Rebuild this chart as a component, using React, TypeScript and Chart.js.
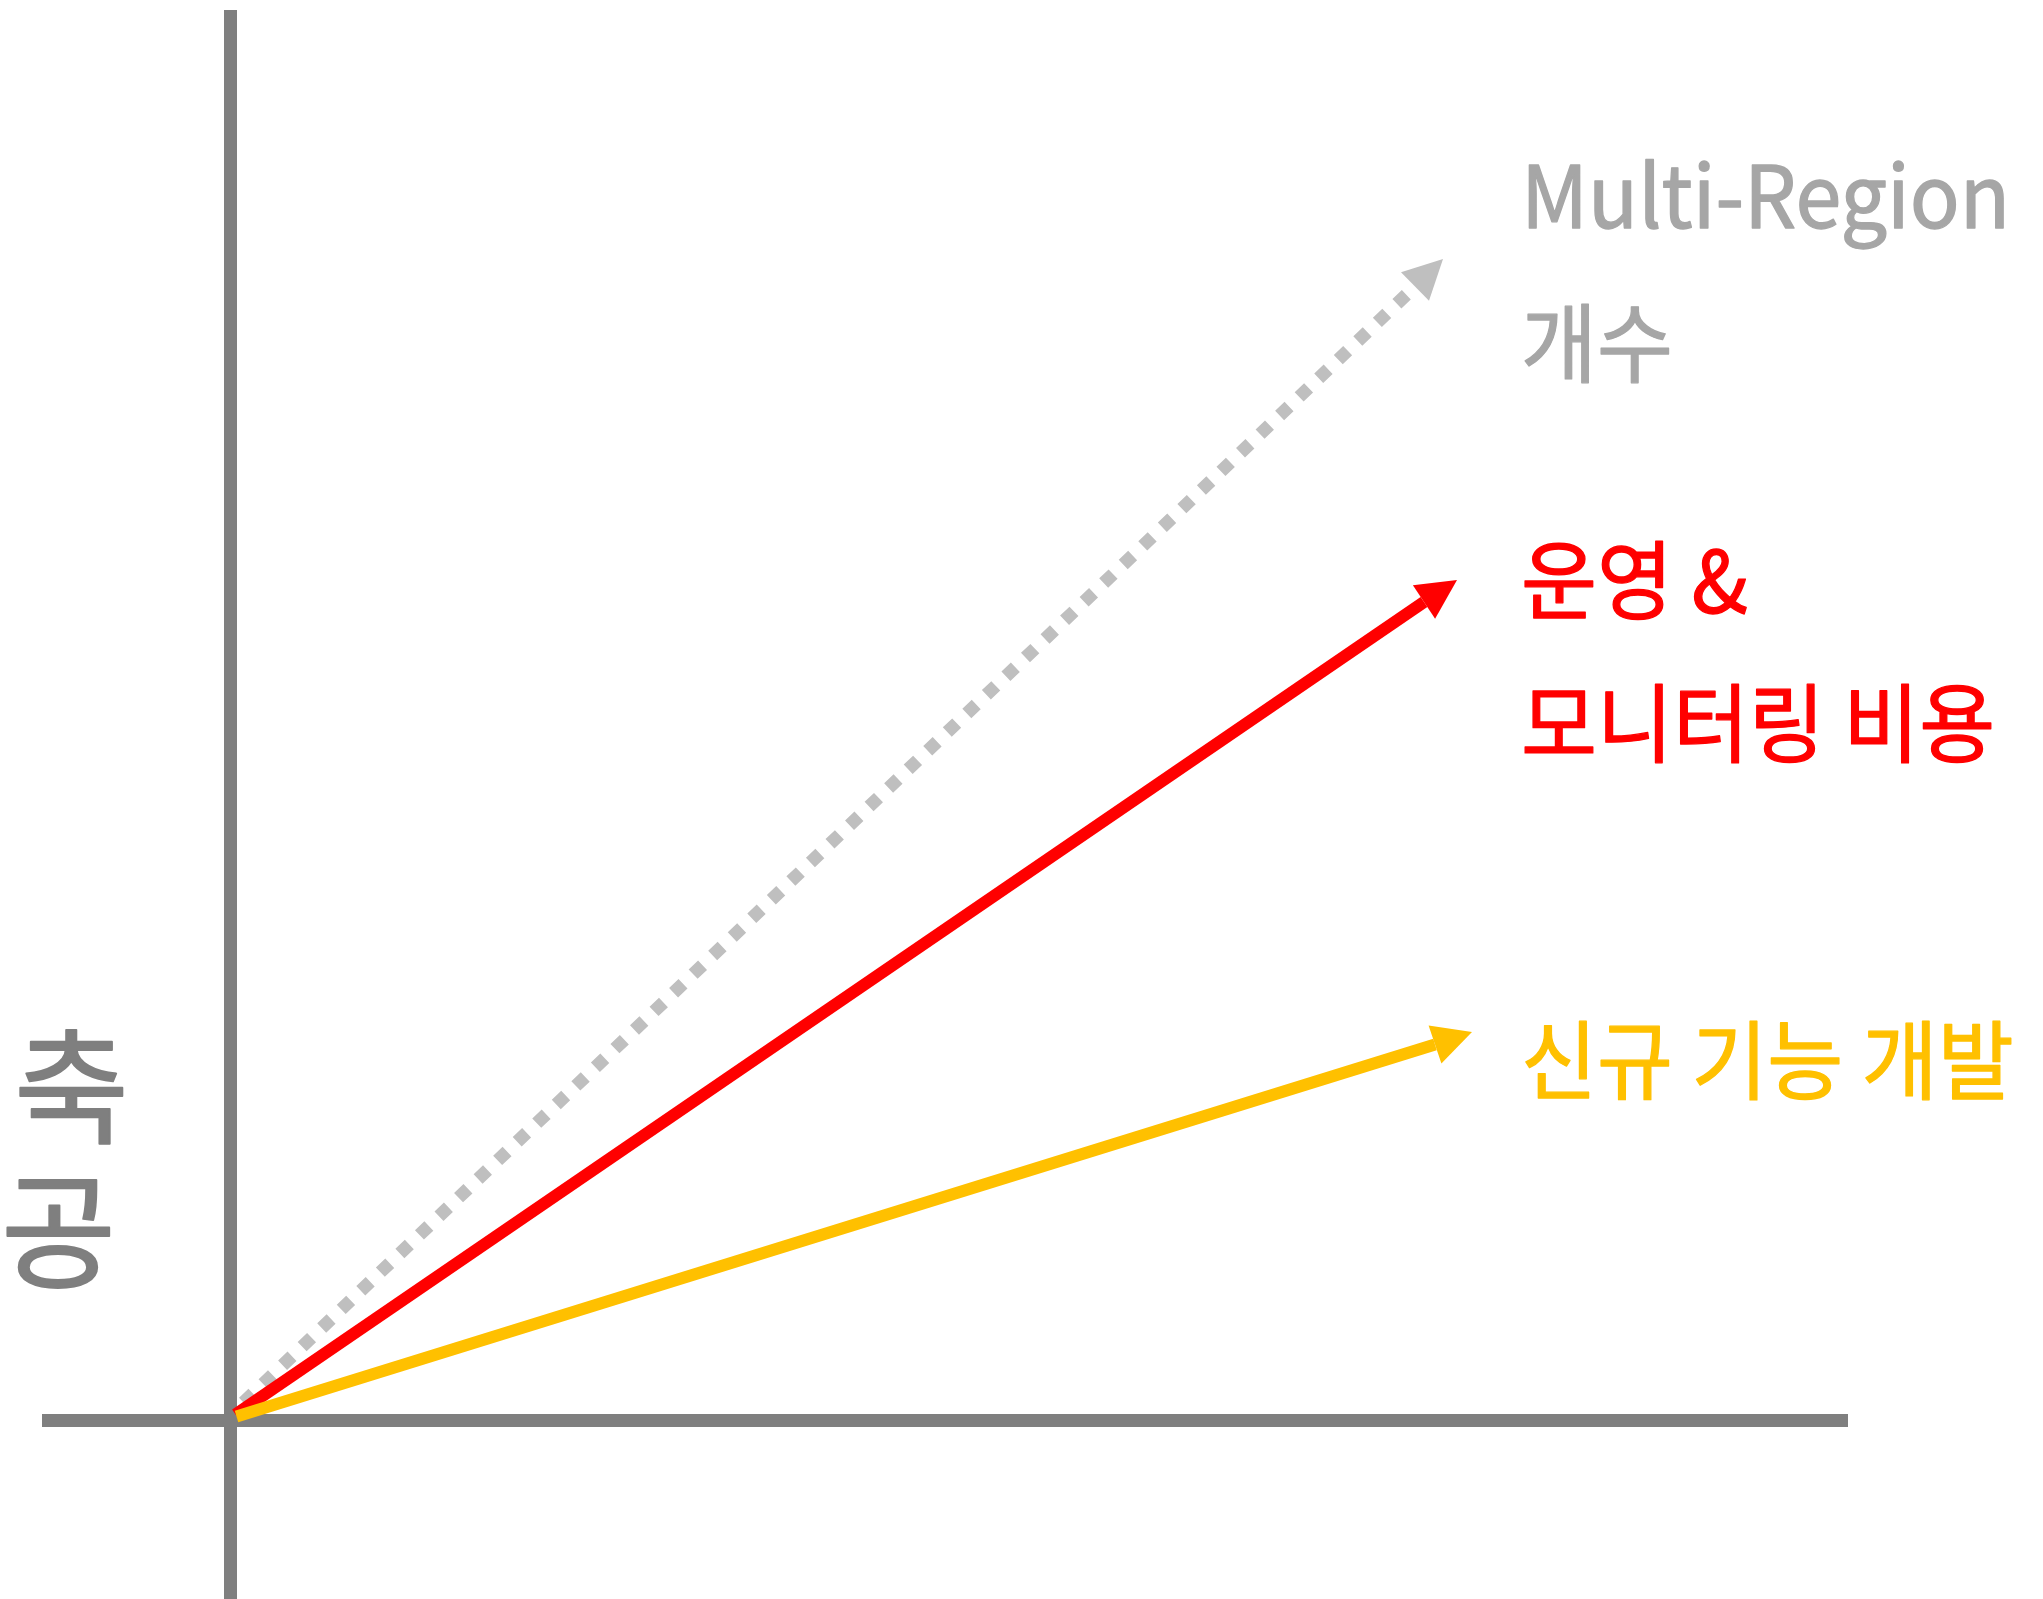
import React, { useEffect, useRef } from "react";
import { Chart, registerables } from "chart.js";

Chart.register(...registerables);

// ---- data ----
const seriesNames = ["Multi-Region 개수", "운영 & 모니터링 비용", "신규 기능 개발"];
const labelLines = [["Multi-Region", "개수"], ["운영 &", "모니터링 비용"], ["신규 기능 개발"]];
const startX = [0.13, 0.05, 0.06];
const startY = [0.18, 0.06, 0.04];
const shaftEndX = [11.845, 11.935, 12.045];
const shaftEndY = [11.34, 8.185, 3.76];
const tipX = [12.125, 12.265, 12.415];
const tipY = [11.615, 8.405, 3.885];
const xAxisRange = [-1.885, 16.175];
const yAxisRange = [-1.785, 14.105];
const axisTitleChars = ["축", "공"];

// ---- styles ----
const AXIS_COLOR = "#7F7F7F";
const lineColors = ["#BFBFBF", "#FF0000", "#FFC000"];
const textColors = ["#A6A6A6", "#FF0000", "#FFC000"];
const FONT = "'Noto Sans CJK KR', 'Noto Sans', sans-serif";

const labelLeft = 1521;
const labelBaselines = [[228, 376], [613, 756], [1093]];
const labelFontSize = 86;
const labelScaleX = 0.96;
const titlePos = [
  [71.5, 1134],
  [58.5, 1278],
];
const titleFontSize = 125;

const decorPlugin = {
  id: "decor",
  afterDatasetsDraw(chart: any) {
    const { ctx, scales } = chart;
    const xs = scales.x;
    const ys = scales.y;
    ctx.save();
    // arrow heads
    for (let i = 0; i < seriesNames.length; i++) {
      const tx = xs.getPixelForValue(tipX[i]);
      const ty = ys.getPixelForValue(tipY[i]);
      const bx = xs.getPixelForValue(shaftEndX[i]);
      const by = ys.getPixelForValue(shaftEndY[i]);
      const dx = tx - bx;
      const dy = ty - by;
      const len = Math.hypot(dx, dy) || 1;
      const nx = -dy / len;
      const ny = dx / len;
      const hw = 20;
      ctx.beginPath();
      ctx.moveTo(tx, ty);
      ctx.lineTo(bx + nx * hw, by + ny * hw);
      ctx.lineTo(bx - nx * hw, by - ny * hw);
      ctx.closePath();
      ctx.fillStyle = lineColors[i];
      ctx.fill();
    }
    // labels
    ctx.textAlign = "left";
    ctx.textBaseline = "alphabetic";
    ctx.font = `400 ${labelFontSize}px ${FONT}`;
    ctx.lineJoin = "round";
    for (let i = 0; i < labelLines.length; i++) {
      ctx.fillStyle = textColors[i];
      ctx.strokeStyle = textColors[i];
      ctx.lineWidth = 1.3;
      labelLines[i].forEach((line, j) => {
        ctx.save();
        ctx.translate(labelLeft, labelBaselines[i][j]);
        ctx.scale(labelScaleX, 1);
        ctx.fillText(line, 0, 0);
        ctx.strokeText(line, 0, 0);
        ctx.restore();
      });
    }
    // axis title (stacked)
    ctx.font = `400 ${titleFontSize}px ${FONT}`;
    ctx.textAlign = "center";
    ctx.fillStyle = AXIS_COLOR;
    ctx.strokeStyle = AXIS_COLOR;
    ctx.lineWidth = 1.8;
    axisTitleChars.forEach((ch, k) => {
      ctx.fillText(ch, titlePos[k][0], titlePos[k][1]);
      ctx.strokeText(ch, titlePos[k][0], titlePos[k][1]);
    });
    ctx.restore();
  },
};

export default function App() {
  const canvasRef = useRef<HTMLCanvasElement | null>(null);

  useEffect(() => {
    const canvas = canvasRef.current;
    if (!canvas) return;
    const datasets: any[] = [
      {
        label: "x-axis",
        data: [
          { x: xAxisRange[0], y: 0 },
          { x: xAxisRange[1], y: 0 },
        ],
        borderColor: AXIS_COLOR,
        borderWidth: 13,
        order: 10,
      },
      {
        label: "y-axis",
        data: [
          { x: 0, y: yAxisRange[0] },
          { x: 0, y: yAxisRange[1] },
        ],
        borderColor: AXIS_COLOR,
        borderWidth: 13,
        order: 10,
      },
    ];
    seriesNames.forEach((name, i) => {
      datasets.push({
        label: name,
        data: [
          { x: startX[i], y: startY[i] },
          { x: shaftEndX[i], y: shaftEndY[i] },
        ],
        borderColor: lineColors[i],
        borderWidth: i === 0 ? 13 : 12,
        borderDash: i === 0 ? [13, 14] : [],
        borderCapStyle: "butt",
        order: 3 - i,
      });
    });
    datasets.forEach((d) => {
      d.showLine = true;
      d.pointRadius = 0;
      d.pointHoverRadius = 0;
      d.fill = false;
      d.tension = 0;
    });

    const chart = new Chart(canvas, {
      type: "scatter",
      data: { datasets },
      options: {
        animation: false,
        responsive: false,
        devicePixelRatio: 1,
        events: [],
        layout: { padding: { left: 42, right: 195, top: 10, bottom: 0 } },
        plugins: { legend: { display: false }, tooltip: { enabled: false } },
        scales: {
          x: { type: "linear", display: false, min: xAxisRange[0], max: xAxisRange[1] },
          y: { type: "linear", display: false, min: yAxisRange[0], max: yAxisRange[1] },
        },
      },
      plugins: [decorPlugin],
    } as any);
    return () => chart.destroy();
  }, []);

  return (
    <div style={{ position: "fixed", left: 0, top: 0, width: 2043, height: 1599, background: "#fff" }}>
      <canvas ref={canvasRef} width={2043} height={1599} style={{ display: "block" }} />
    </div>
  );
}
